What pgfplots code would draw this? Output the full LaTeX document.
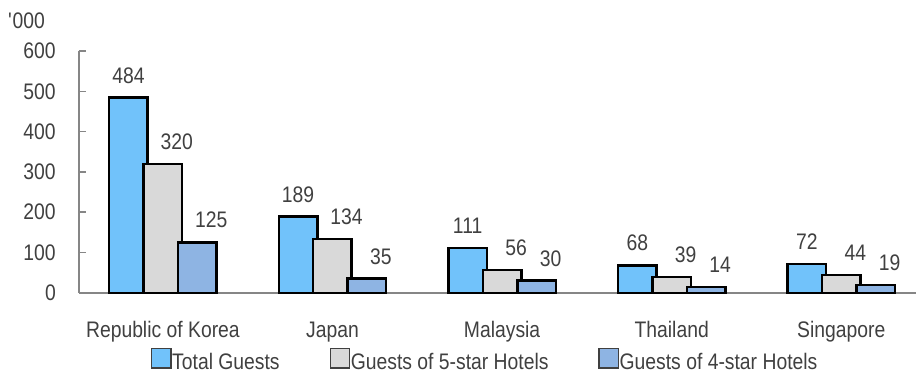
\documentclass[border=0pt]{standalone}
\usepackage{pgfplots}
\pgfplotsset{compat=1.18}
\usepackage{fontspec}
\setmainfont{Liberation Sans}[FakeStretch=0.86]

\definecolor{totalblue}{RGB}{113,194,250}
\definecolor{fivegray}{RGB}{217,217,217}
\definecolor{fourblue}{RGB}{142,180,227}
\definecolor{txt}{RGB}{64,64,64}
\definecolor{axisgray}{RGB}{134,134,134}

\begin{document}
\fontsize{22.5}{27}\selectfont
\begin{tikzpicture}
\begin{axis}[
  name=ax,
  scale only axis, width=838pt, height=242pt,
  xmin=-0.495, xmax=4.442, ymin=0, ymax=600,
  axis lines*=left,
  axis line style={axisgray, line width=1.5pt},
  ytick={0,100,...,600},
  xtick={0,...,4},
  xticklabels={Republic of Korea, Japan, Malaysia, Thailand, Singapore},
  major x tick style={draw=none},
  ytick style={axisgray, line width=1.5pt},
  tick align=inside, major tick length=7pt,
  /pgf/number format/assume math mode=true,
  yticklabel style={anchor=east, inner sep=0pt, xshift=-23pt, text=txt},
  xticklabel style={anchor=base, inner sep=0pt, yshift=-38pt, text=txt},
  ybar, bar width=0.227,
  every axis plot/.append style={draw=black, line width=2.5pt},
  nodes near coords,
  nodes near coords style={text=txt, inner sep=0pt, anchor=south, yshift=13pt},
  clip=false,
  legend columns=-1,
  legend image code/.code={\draw[#1, line width=1.2pt, draw=black!75] (0pt,-5pt) rectangle (19.5pt,14.5pt);},
  legend style={at={(0.484,-0.28)}, anchor=center, draw=none, fill=none,
    text=txt, nodes={inner sep=0pt},
    /tikz/every odd column/.append style={column sep=0.5pt},
    /tikz/every even column/.append style={column sep=50pt}},
]
% total guests, then 5-star and 4-star guests drawn over them
\addplot[fill=totalblue, bar shift=-0.203]
  coordinates {(0,484) (1,189) (2,111) (3,68) (4,72)};
\addplot[fill=fivegray, bar shift=0, nodes near coords style={xshift=14pt}]
  coordinates {(0,320) (1,134) (2,56) (3,39) (4,44)};
\addplot[fill=fourblue, bar shift=0.203, nodes near coords style={xshift=14pt}]
  coordinates {(0,125) (1,35) (2,30) (3,14) (4,19)};
\legend{Total Guests, Guests of 5-star Hotels, Guests of 4-star Hotels}
\node[anchor=east, inner sep=0pt, text=txt] at (rel axis cs:0,1) [xshift=-34pt, yshift=30pt] {\textquotesingle 000};
\end{axis}
\path (-79pt,-77pt) rectangle (838pt,293pt);
\end{tikzpicture}
\end{document}
